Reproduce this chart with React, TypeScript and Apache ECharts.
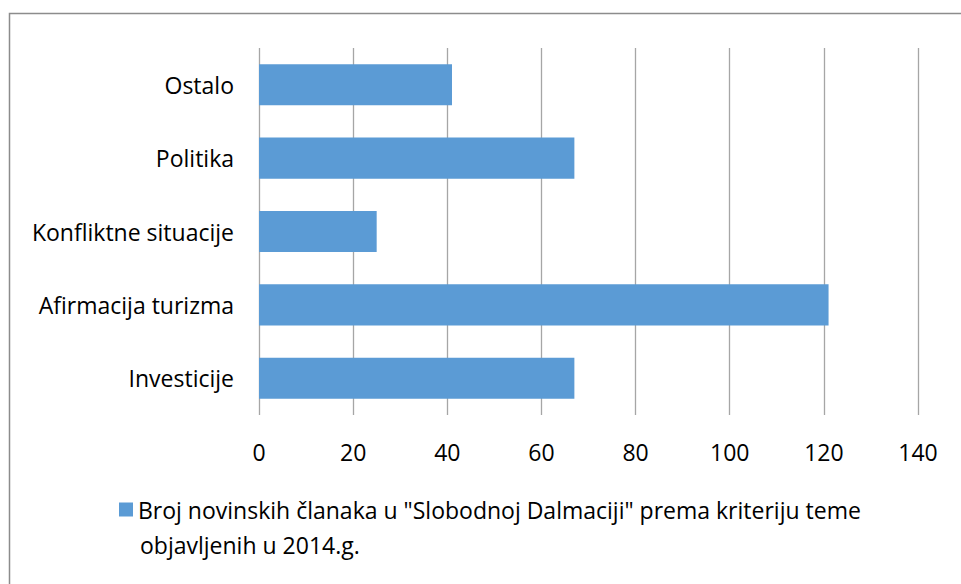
import React, { useEffect, useRef } from "react";
import * as echarts from "echarts";

const categories = ["Investicije", "Afirmacija turizma", "Konfliktne situacije", "Politika", "Ostalo"];
const values = [67, 121, 25, 67, 41];
const legendLine1 = "Broj novinskih članaka u \"Slobodnoj Dalmaciji\" prema kriteriju teme";
const legendLine2 = "objavljenih u 2014.g.";
const seriesName = legendLine1 + " " + legendLine2;
const FONT = "Open Sans";
const FS = 23;

export default function App() {
  const ref = useRef<HTMLDivElement>(null);
  useEffect(() => {
    const chart = echarts.init(ref.current!, null, { renderer: "svg" });
    chart.setOption({
      animation: false,
      backgroundColor: "#ffffff",
      textStyle: { fontFamily: FONT },
      graphic: [
        {
          type: "rect",
          shape: { x: 9.5, y: 13.5, width: 1000, height: 1000 },
          style: { fill: "none", stroke: "#8c8c8c", lineWidth: 1.5 },
          silent: true,
          z: -1,
        },
        {
          type: "text",
          x: 140,
          y: 545,
          style: {
            text: legendLine2,
            fill: "#000",
            fontSize: FS,
            fontFamily: FONT,
            verticalAlign: "middle",
            align: "left",
          },
          silent: true,
        },
      ],
      grid: { left: 259, right: 43, top: 48, bottom: 169, containLabel: false },
      xAxis: {
        type: "value",
        min: 0,
        max: 140,
        interval: 20,
        axisLine: { show: false },
        axisTick: { show: false },
        splitLine: { show: true, lineStyle: { color: "#a6a6a6", width: 1.3 } },
        axisLabel: { color: "#000", fontSize: FS, fontFamily: FONT, margin: 25 },
      },
      yAxis: {
        type: "category",
        data: categories,
        axisLine: { show: false },
        axisTick: { show: false },
        axisLabel: { color: "#000", fontSize: FS, fontFamily: FONT, margin: 25 },
      },
      legend: {
        show: true,
        left: 119,
        top: 498,
        itemWidth: 14,
        itemHeight: 14,
        itemGap: 10,
        padding: 0,
        icon: "rect",
        formatter: () => legendLine1,
        textStyle: {
          color: "#000",
          fontSize: FS,
          fontFamily: FONT,
        },
        data: [seriesName],
      },
      series: [
        {
          name: seriesName,
          type: "bar",
          data: values,
          barCategoryGap: "44%",
          itemStyle: { color: "#5b9bd5" },
        },
      ],
    });
    return () => chart.dispose();
  }, []);
  return (
    <div
      ref={ref}
      style={{ position: "fixed", left: 0, top: 0, width: 961, height: 584 }}
    />
  );
}
